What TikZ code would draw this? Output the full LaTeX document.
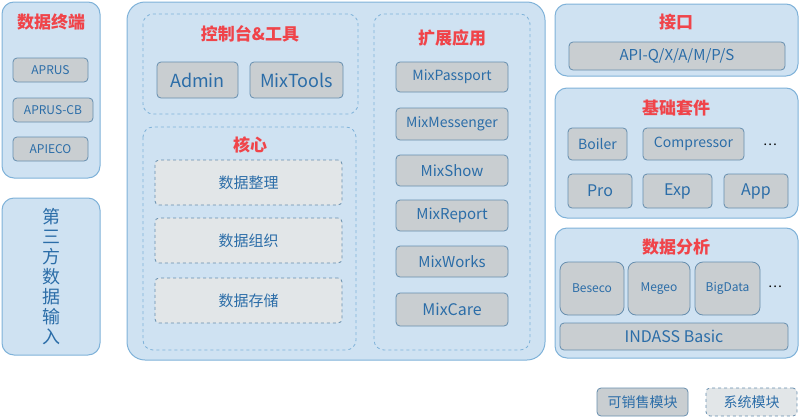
\documentclass[tikz,border=0pt]{standalone}
\usepackage{fontspec}
\setmainfont{Noto Sans CJK SC}
\usetikzlibrary{positioning}
\definecolor{panelfill}{HTML}{CFE2F2}
\definecolor{paneldraw}{HTML}{7FB2D9}
\definecolor{modfill}{HTML}{C9CED1}
\definecolor{modsys}{HTML}{E2E6E8}
\definecolor{modtext}{HTML}{2B6DA8}
\definecolor{titlered}{HTML}{F0444A}
\tikzset{
  panel/.style={draw=paneldraw, fill=panelfill, line width=1pt, rounded corners=12pt},
  group/.style={draw=paneldraw, dashed, line width=0.8pt, rounded corners=10pt},
  title/.style={text=titlered, font=\bfseries\fontsize{17}{17}\selectfont},
  mod/.style={draw=paneldraw!80!black, fill=modfill, line width=0.8pt, rounded corners=4pt,
    text=modtext, inner sep=0pt, font=\fontsize{14}{14}\selectfont},
  sys/.style={mod, fill=modsys, dashed},
}
\begin{document}
\begin{tikzpicture}[x=1pt,y=-1pt]
\useasboundingbox (0,0) rectangle (800,418);

% panels
\draw[panel] (2,2) rectangle (100,178);
\draw[panel] (2,198) rectangle (100,355);
\draw[panel, rounded corners=18pt] (127,2) rectangle (545,360);
\draw[panel] (555,4) rectangle (798,76);
\draw[panel] (555,88) rectangle (798,218);
\draw[panel] (555,228) rectangle (798,358);

\draw[group] (143,14) rectangle (358,114);
\draw[group] (143,127) rectangle (356,350);
\draw[group] (374,14) rectangle (530,350);

% data terminal
\node[title] (t-term) at (51,22) {数据终端};
\node[mod, minimum width=75pt, minimum height=24pt, font=\fontsize{12}{12}\selectfont] (aprus) at (50.5,70) {APRUS};
\node[mod, minimum width=80pt, minimum height=24pt, font=\fontsize{12}{12}\selectfont] (aprus-cb) at (53,110) {APRUS-CB};
\node[mod, minimum width=75pt, minimum height=24pt, font=\fontsize{12}{12}\selectfont] (apieco) at (50.5,149) {APIECO};
\node[text=modtext, font=\fontsize{18}{20}\selectfont, align=center] (third) at (51,277)
  {第\\三\\方\\数\\据\\输\\入};

% console
\node[title] (t-con) at (250,34) {控制台\&工具};
\node[mod, minimum width=81pt, minimum height=36pt, font=\fontsize{18}{18}\selectfont] (admin) at (197.5,80) {Admin};
\node[mod, minimum width=93pt, minimum height=36pt, font=\fontsize{18}{18}\selectfont] (mixtools) at (296.5,80) {MixTools};

% core
\node[title] (t-core) at (250,145) {核心};
\node[sys, minimum width=187pt, minimum height=45pt, font=\fontsize{15}{15}\selectfont] (d1) at (248.5,182.5) {数据整理};
\node[sys, minimum width=187pt, minimum height=45pt, font=\fontsize{15}{15}\selectfont] (d2) at (248.5,240.5) {数据组织};
\node[sys, minimum width=187pt, minimum height=45pt, font=\fontsize{15}{15}\selectfont] (d3) at (248.5,300.5) {数据存储};

% extensions
\node[title] (t-ext) at (452,38) {扩展应用};
\node[mod, minimum width=112pt, minimum height=30pt] (passport) at (452,77) {MixPassport};
\node[mod, minimum width=112pt, minimum height=32pt] (messenger) at (452,124) {MixMessenger};
\node[mod, minimum width=112pt, minimum height=31pt, font=\fontsize{15}{15}\selectfont] (show) at (452,170.5) {MixShow};
\node[mod, minimum width=112pt, minimum height=31pt, font=\fontsize{15}{15}\selectfont] (report) at (452,215.5) {MixReport};
\node[mod, minimum width=112pt, minimum height=31pt, font=\fontsize{15}{15}\selectfont] (works) at (452,261.5) {MixWorks};
\node[mod, minimum width=112pt, minimum height=33pt, font=\fontsize{16}{16}\selectfont] (care) at (452,309.5) {MixCare};

% interface
\node[title] (t-api) at (676,22) {接口};
\node[mod, minimum width=216pt, minimum height=28pt, font=\fontsize{15}{15}\selectfont] (api) at (677,56) {API-Q/X/A/M/P/S};

% base kit
\node[title] (t-base) at (676,108) {基础套件};
\node[mod, minimum width=59pt, minimum height=32pt] (boiler) at (597.5,144) {Boiler};
\node[mod, minimum width=101pt, minimum height=32pt] (compressor) at (693.5,144) {Compressor};
\node[text=black, font=\fontsize{13}{13}\selectfont] (dots1) at (770,145) {…};
\node[mod, minimum width=64pt, minimum height=34pt, font=\fontsize{16}{16}\selectfont] (pro) at (600,191) {Pro};
\node[mod, minimum width=69pt, minimum height=34pt, font=\fontsize{16}{16}\selectfont] (exp) at (677.5,191) {Exp};
\node[mod, minimum width=64pt, minimum height=34pt, font=\fontsize{16}{16}\selectfont] (app) at (756,191) {App};

% analysis
\node[title] (t-ana) at (676,247) {数据分析};
\node[mod, minimum width=64pt, minimum height=53pt, rounded corners=8pt, font=\fontsize{12}{12}\selectfont] (beseco) at (592,288.5) {Beseco};
\node[mod, minimum width=62pt, minimum height=53pt, rounded corners=8pt, font=\fontsize{12}{12}\selectfont] (megeo) at (659,288.5) {Megeo};
\node[mod, minimum width=65pt, minimum height=53pt, rounded corners=8pt, font=\fontsize{12}{12}\selectfont] (bigdata) at (727.5,288.5) {BigData};
\node[text=black, font=\fontsize{13}{13}\selectfont] (dots2) at (775,287) {…};
\node[mod, minimum width=228pt, minimum height=27pt, font=\fontsize{16}{16}\selectfont] (indass) at (674,336.5) {INDASS Basic};

% legend
\node[mod, minimum width=91pt, minimum height=28pt] (l-sale) at (642.5,402) {可销售模块};
\node[sys, minimum width=91pt, minimum height=28pt] (l-sys) at (751.5,402) {系统模块};
\end{tikzpicture}
\end{document}
